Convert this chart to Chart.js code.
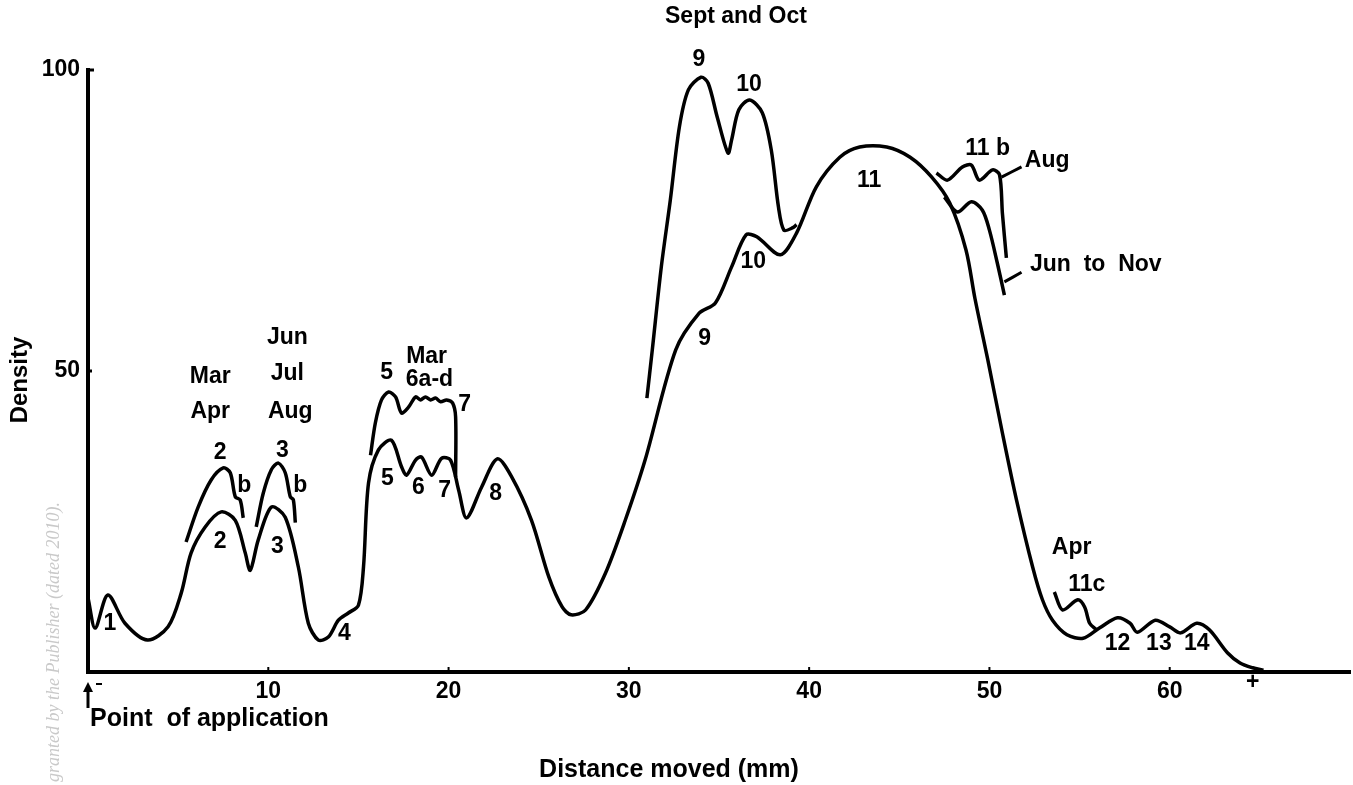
<!DOCTYPE html>
<html>
<head>
<meta charset="utf-8">
<script src="https://cdn.jsdelivr.net/npm/chart.js@4.4.0/dist/chart.umd.min.js"></script>
<style>
  body { margin: 0; background: #fff; }
  #wrap { width: 1353px; height: 785px; }
</style>
</head>
<body>
<div id="wrap"><canvas id="chart" width="1353" height="785"></canvas></div>
<script>
// distance moved (mm), density
const mainCurve = [
  [0.0, 12.3], [0.4, 7.3], [1.1, 12.8], [2.05, 8.1], [3.3, 5.3], [4.44, 7.5], [5.17, 13.1],
  [5.72, 19.8], [6.5, 24.1], [7.39, 26.6], [8.17, 25.2], [8.72, 19.8], [9.0, 16.9], [9.44, 21.9],
  [10.17, 27.4], [10.94, 25.7], [11.67, 17.4], [12.22, 8.1], [12.78, 5.3], [13.33, 5.8],
  [13.89, 8.6], [14.44, 9.8], [15.0, 11.1], [15.28, 17.4], [15.56, 31.4], [16.11, 36.9],
  [16.83, 38.5], [17.39, 34.1], [17.67, 32.7], [18.17, 35.2], [18.5, 35.7], [19.06, 32.7],
  [19.61, 35.5], [20.11, 35.2], [20.56, 30.2], [21.0, 25.6], [21.83, 30.7], [22.7, 35.4],
  [23.5, 32.4], [24.6, 25.2], [25.56, 15.8], [26.3, 10.8], [26.8, 9.5], [27.6, 10.3],
  [28.7, 16.4], [29.8, 25.2], [30.9, 35.2], [32.6, 53.5], [33.9, 59.6], [34.8, 61.3],
  [35.7, 67.3], [36.5, 72.6], [37.1, 72.3], [38.4, 69.3], [39.3, 72.9], [40.4, 80.6],
  [41.7, 85.5], [42.8, 87.2], [44.3, 87.2], [45.6, 85.5], [46.8, 82.2], [47.8, 77.9],
  [48.7, 70.1], [49.2, 62.0], [49.9, 52.0], [50.72, 39.7], [51.5, 28.6], [52.4, 17.4],
  [52.94, 12.0], [53.5, 8.6], [54.3, 6.2], [55.2, 5.6], [56.1, 7.3], [57.1, 9.0], [57.8, 8.1],
  [58.2, 6.6], [59.2, 8.6], [60.0, 7.5], [60.6, 6.5], [61.5, 8.1], [62.2, 7.0], [63.2, 3.2],
  [63.9, 1.5], [64.6, 0.7], [65.2, 0.3]
];
const marAprB = [
  [5.44, 21.6], [6.11, 27.4], [6.83, 31.9], [7.5, 33.9], [7.89, 33.1], [8.17, 29.1],
  [8.44, 28.6], [8.61, 25.6]
];
const junAugB = [
  [9.33, 24.1], [9.72, 29.7], [10.17, 33.6], [10.56, 34.7], [10.94, 33.1], [11.22, 29.1],
  [11.39, 28.6], [11.5, 24.8]
];
const mar6ad = [
  [15.67, 36.0], [15.94, 41.4], [16.28, 45.2], [16.67, 46.5], [17.06, 45.7], [17.39, 43.0],
  [17.78, 44.0], [18.17, 45.7], [18.44, 45.2], [18.72, 45.7], [19.0, 45.2], [19.28, 45.5],
  [19.56, 44.9], [19.89, 45.2], [20.22, 44.7], [20.39, 42.4], [20.39, 32.4]
];
const septOct = [
  [31.0, 45.5], [31.3, 53.5], [31.8, 67.3], [32.3, 78.4], [32.8, 90.5], [33.3, 96.7],
  [34.0, 98.8], [34.4, 97.8], [34.9, 92.2], [35.5, 86.2], [35.7, 88.4], [36.1, 93.4],
  [36.7, 95.0], [37.4, 92.9], [37.9, 86.7], [38.3, 77.2], [38.6, 73.4], [39.1, 73.8],
  [39.3, 74.3]
];
const aug11b = [
  [47.06, 82.9], [47.67, 81.7], [48.5, 83.9], [49.0, 84.2], [49.44, 81.7], [50.17, 83.4],
  [50.56, 82.6], [50.72, 76.2], [50.94, 68.8]
];
const junNov = [
  [47.5, 78.9], [48.22, 76.4], [49.0, 78.1], [49.61, 76.7], [50.0, 73.4], [50.44, 67.9],
  [50.83, 62.6]
];
const apr11c = [
  [53.6, 13.3], [54.06, 10.3], [54.9, 12.0], [55.28, 10.8], [55.56, 8.1], [55.94, 7.0]
];
const augLeader = [[50.67, 82.2], [51.78, 83.9]];
const junLeader = [[50.83, 64.8], [51.78, 66.4]];

const xTicks = [10, 20, 30, 40, 50, 60];
const yTicks = [50, 100];

// curve labels: text, mm, density
const curveLabels = [
  ['1', 1.22, 8.0], ['Mar', 6.78, 49.0], ['Apr', 6.78, 43.2], ['2', 7.33, 36.5],
  ['b', 8.67, 30.9], ['2', 7.33, 21.6], ['Jun', 11.06, 55.5], ['Jul', 11.06, 49.5],
  ['Aug', 11.22, 43.2], ['3', 10.78, 36.7], ['b', 11.78, 30.9], ['3', 10.5, 20.9],
  ['4', 14.22, 6.3], ['5', 16.56, 49.8], ['Mar', 18.78, 52.3], ['6a-d', 18.94, 48.5],
  ['7', 20.89, 44.4], ['5', 16.61, 32.1], ['6', 18.33, 30.7], ['7', 19.78, 30.1],
  ['8', 22.61, 29.6], ['Sept and Oct', 35.94, 108.8], ['9', 33.89, 101.7],
  ['10', 36.67, 97.5], ['9', 34.2, 55.3], ['10', 36.9, 68.1], ['11', 43.33, 81.7],
  ['11 b', 49.9, 87.0], ['Aug', 53.2, 85.0], ['Jun  to  Nov', 55.9, 67.6],
  ['Apr', 54.56, 20.6], ['11c', 55.4, 14.5], ['12', 57.1, 4.65], ['13', 59.4, 4.65],
  ['14', 61.5, 4.65], ['+', 64.6, -1.8]
];

const FONT = "'Liberation Sans Narrow', 'Liberation Sans', sans-serif";

function toPoints(arr) {
    return arr.map(p => ({ x: p[0], y: p[1] }));
}

function curve(arr, width) {
    return {
        data: toPoints(arr),
        borderColor: '#000',
        borderWidth: width || 3.5,
        pointRadius: 0,
        tension: 0.3,
        fill: false,
        clip: false
    };
}

const textPlugin = {
    id: 'figureText',
    afterDatasetsDraw(chart) {
        const ctx = chart.ctx;
        const xs = chart.scales.x;
        const ys = chart.scales.y;
        ctx.save();
        ctx.fillStyle = '#000';
        ctx.textAlign = 'center';
        ctx.textBaseline = 'middle';
        ctx.font = 'bold 23px ' + FONT;
        curveLabels.forEach(l => {
            ctx.fillText(l[0], xs.getPixelForValue(l[1]), ys.getPixelForValue(l[2]));
        });

        // small ticks on the axes
        ctx.strokeStyle = '#000';
        ctx.lineWidth = 2;
        xTicks.forEach(v => {
            const px = xs.getPixelForValue(v);
            ctx.beginPath();
            ctx.moveTo(px, ys.bottom);
            ctx.lineTo(px, ys.bottom - 5);
            ctx.stroke();
        });
        ctx.lineWidth = 3;
        yTicks.forEach(v => {
            const py = ys.getPixelForValue(v);
            ctx.beginPath();
            ctx.moveTo(xs.left - 2, py);
            ctx.lineTo(xs.left + (v === 100 ? 6 : 4), py);
            ctx.stroke();
        });

        // arrow at the point of application
        const x0 = xs.getPixelForValue(0);
        ctx.lineWidth = 3;
        ctx.beginPath();
        ctx.moveTo(x0, ys.bottom + 14);
        ctx.lineTo(x0, ys.bottom + 36);
        ctx.stroke();
        ctx.beginPath();
        ctx.moveTo(x0 - 5, ys.bottom + 20);
        ctx.lineTo(x0, ys.bottom + 10);
        ctx.lineTo(x0 + 5, ys.bottom + 20);
        ctx.closePath();
        ctx.fill();
        ctx.fillRect(x0 + 8, ys.bottom + 11, 6, 2);

        ctx.font = 'bold 25px ' + FONT;
        ctx.textAlign = 'left';
        ctx.fillText('Point  of application', x0 + 2, ys.bottom + 47);
        ctx.textAlign = 'center';
        ctx.fillText('Distance moved (mm)', 669, ys.bottom + 98);

        ctx.save();
        ctx.translate(20, 380);
        ctx.rotate(-Math.PI / 2);
        ctx.font = 'bold 24px ' + FONT;
        ctx.fillText('Density', 0, 0);
        ctx.restore();

        // watermark along the left edge
        ctx.save();
        ctx.translate(54, 502);
        ctx.rotate(-Math.PI / 2);
        ctx.textAlign = 'right';
        ctx.fillStyle = '#c9c9c9';
        ctx.font = "italic 18px 'Liberation Serif', serif";
        ctx.fillText('granted by the Publisher (dated 2010).', 0, 0);
        ctx.restore();
        ctx.restore();
    }
};

new Chart(document.getElementById('chart'), {
    type: 'line',
    data: {
        datasets: [
            curve(mainCurve), curve(marAprB), curve(junAugB), curve(mar6ad), curve(septOct),
            curve(aug11b), curve(junNov), curve(apr11c), curve(augLeader, 3), curve(junLeader, 3)
        ]
    },
    options: {
        responsive: false,
        animation: false,
        layout: { padding: { top: 70, right: 3, left: 0, bottom: 0 } },
        plugins: { legend: { display: false }, tooltip: { enabled: false } },
        scales: {
            x: {
                type: 'linear',
                min: 0,
                max: 70,
                afterFit: s => { s.height = 113; },
                afterBuildTicks: s => { s.ticks = xTicks.map(v => ({ value: v })); },
                grid: { display: false, drawTicks: false },
                border: { color: '#000', width: 4 },
                ticks: {
                    color: '#000',
                    padding: 6,
                    autoSkip: false,
                    maxRotation: 0,
                    font: { size: 23, weight: 'bold', family: FONT }
                }
            },
            y: {
                min: 0,
                max: 100,
                afterFit: s => { s.width = 88; },
                afterBuildTicks: s => { s.ticks = yTicks.map(v => ({ value: v })); },
                grid: { display: false, drawTicks: false },
                border: { color: '#000', width: 4 },
                ticks: {
                    color: '#000',
                    padding: 8,
                    font: { size: 23, weight: 'bold', family: FONT }
                }
            }
        }
    },
    plugins: [textPlugin]
});
</script>
</body>
</html>
